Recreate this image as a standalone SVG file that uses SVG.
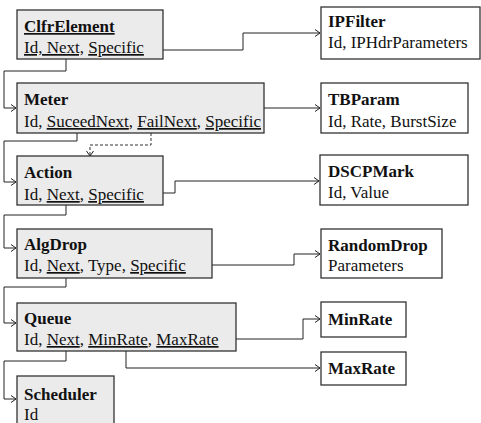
<svg xmlns="http://www.w3.org/2000/svg" width="481" height="423" viewBox="0 0 481 423">
<style>
.b{fill:#ebebeb;stroke:#333;stroke-width:1.3}
.w{fill:#fff;stroke:#333;stroke-width:1.3}
text{font-family:"Liberation Serif","Times New Roman",serif;font-size:17px;fill:#111}
.t{font-weight:bold}
.u{text-decoration:underline}
.c{fill:none;stroke:#222;stroke-width:1}
.d{fill:none;stroke:#333;stroke-width:1;stroke-dasharray:3,2}
</style>
<defs>
<marker id="arr" markerWidth="8" markerHeight="10" refX="6" refY="4" orient="auto" markerUnits="userSpaceOnUse"><path d="M1,0.5 L6,4 L1,7.5" fill="none" stroke="#222" stroke-width="1"/></marker>
</defs>
<rect width="481" height="423" fill="#fff"/>
<g id="connectors">
<path class="c" d="M163,50 H243 V33 H320" marker-end="url(#arr)"/>
<path class="c" d="M66,59 V71 H4 V108 H16" marker-end="url(#arr)"/>
<path class="c" d="M264,108 H320" marker-end="url(#arr)"/>
<path class="c" d="M77,133 V141 H4 V182 H16" marker-end="url(#arr)"/>
<path class="d" d="M151,133 V145 H90 V156" marker-end="url(#arr)"/>
<path class="c" d="M163,193 H175 V181 H319" marker-end="url(#arr)"/>
<path class="c" d="M66,205 V215 H4 V248 H16" marker-end="url(#arr)"/>
<path class="c" d="M212,265 H294 V254 H320" marker-end="url(#arr)"/>
<path class="c" d="M66,278 V287 H4 V323 H16" marker-end="url(#arr)"/>
<path class="c" d="M236,339 H303 V319 H320" marker-end="url(#arr)"/>
<path class="c" d="M126,351 V368 H320" marker-end="url(#arr)"/>
<path class="c" d="M66,351 V361 H4 V399 H16" marker-end="url(#arr)"/>
</g>
<g id="ClfrElement">
<rect class="b" x="17" y="10" width="146" height="49"/>
<text x="24" y="32" class="t u">ClfrElement</text>
<text x="24" y="53"><tspan class="u">Id, Next,</tspan> <tspan class="u">Specific</tspan></text>
</g>
<g id="Meter">
<rect class="b" x="17" y="83" width="247" height="50"/>
<text x="24" y="105" class="t">Meter</text>
<text x="24" y="127">Id, <tspan class="u">SuceedNext</tspan>, <tspan class="u">FailNext</tspan>, <tspan class="u">Specific</tspan></text>
</g>
<g id="Action">
<rect class="b" x="17" y="156" width="146" height="49"/>
<text x="24" y="178" class="t">Action</text>
<text x="24" y="200">Id, <tspan class="u">Next</tspan>, <tspan class="u">Specific</tspan></text>
</g>
<g id="AlgDrop">
<rect class="b" x="17" y="229" width="195" height="49"/>
<text x="24" y="250" class="t">AlgDrop</text>
<text x="24" y="271">Id, <tspan class="u">Next</tspan>, Type, <tspan class="u">Specific</tspan></text>
</g>
<g id="Queue">
<rect class="b" x="17" y="303" width="219" height="48"/>
<text x="24" y="324" class="t">Queue</text>
<text x="24" y="345">Id, <tspan class="u">Next</tspan>, <tspan class="u">MinRate</tspan>, <tspan class="u">MaxRate</tspan></text>
</g>
<g id="Scheduler">
<rect class="b" x="17" y="376" width="97" height="60"/>
<text x="24" y="400" class="t">Scheduler</text>
<text x="24" y="420">Id</text>
</g>
<g id="IPFilter">
<rect class="w" x="321" y="7" width="159" height="52"/>
<text x="328" y="27" class="t">IPFilter</text>
<text x="328" y="48">Id, IPHdrParameters</text>
</g>
<g id="TBParam">
<rect class="w" x="321" y="83" width="147" height="50"/>
<text x="328" y="105" class="t">TBParam</text>
<text x="328" y="127">Id, Rate, BurstSize</text>
</g>
<g id="DSCPMark">
<rect class="w" x="320" y="155" width="148" height="50"/>
<text x="328" y="177" class="t">DSCPMark</text>
<text x="328" y="198">Id, Value</text>
</g>
<g id="RandomDrop">
<rect class="w" x="321" y="229" width="121" height="49"/>
<text x="328" y="251" class="t">RandomDrop</text>
<text x="328" y="271">Parameters</text>
</g>
<g id="MinRate">
<rect class="w" x="321" y="302" width="85" height="35"/>
<text x="328" y="325" class="t">MinRate</text>
</g>
<g id="MaxRate">
<rect class="w" x="321" y="352" width="85" height="33"/>
<text x="328" y="374" class="t">MaxRate</text>
</g>
</svg>
